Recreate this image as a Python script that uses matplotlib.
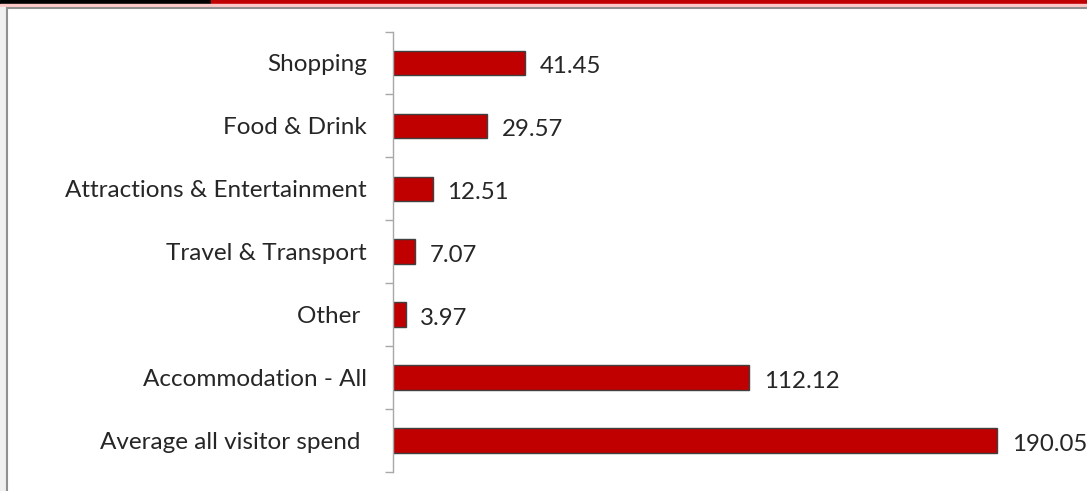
import matplotlib
matplotlib.use("Agg")
import matplotlib.pyplot as plt
from matplotlib.patches import Rectangle
import numpy as np

plt.rcParams['font.family'] = ['Lato', 'DejaVu Sans']

# spend per category, top to bottom
categories = ["Shopping", "Food & Drink", "Attractions & Entertainment",
              "Travel & Transport", "Other ", "Accommodation - All",
              "Average all visitor spend "]
spend = [41.45, 29.57, 12.51, 7.07, 3.97, 112.12, 190.05]
spend_labels = ["41.45", "29.57", "12.51", "7.07", "3.97", "112.12", "190.05"]

W, H = 1087, 491
fig = plt.figure(figsize=(W / 100, H / 100), dpi=100)


def fig_rect(x, y, w, h, **kw):
    # rectangle in pixel units measured from the top-left corner
    fig.patches.append(Rectangle((x / W, 1 - (y + h) / H), w / W, h / H,
                                 transform=fig.transFigure, zorder=-10, **kw))


# header strip and outer frame
fig_rect(0, 0, 210, 4, color="black")
fig_rect(211, 0, W, 4, color="#C00000")
fig_rect(0, 4, W, 3, color="#FFC8C8")
fig_rect(0, 7, 6, H, color="#F0F0F0")
fig_rect(7, 8, W + 20, H + 20, facecolor="white", edgecolor="#909090", lw=1.5)

x0, px_per_unit = 393, 604 / 190.05
xmax = 210
top, bottom = 31.5, 472
ax = fig.add_axes([x0 / W, (H - bottom) / H, xmax * px_per_unit / W, (bottom - top) / H])

y = np.arange(len(categories))
ax.barh(y, spend, height=0.39, color="#C00000", edgecolor="#404040", linewidth=1)
for yi, v, lab in zip(y, spend, spend_labels):
    ax.annotate(lab, (v, yi), xytext=(10.5, -2.5), textcoords="offset points",
                va="center", ha="left", fontsize=17.3, color="#262626")

ax.set_xlim(0, xmax)
ax.set_ylim(len(categories) - 0.5, -0.5)
ax.set_yticks(y)
ax.set_yticklabels(categories, fontsize=17.5, color="#262626")
ax.tick_params(axis="y", which="major", length=0, pad=19)
ax.set_yticks(np.arange(-0.5, len(categories)), minor=True)
ax.tick_params(axis="y", which="minor", length=6, color="#A8A8A8", width=1.0)
ax.set_xticks([])
for side in ["top", "right", "bottom"]:
    ax.spines[side].set_visible(False)
ax.spines["left"].set_color("#A8A8A8")
ax.spines["left"].set_linewidth(1.0)
ax.patch.set_alpha(0)

fig.savefig("out.png", dpi=100)
